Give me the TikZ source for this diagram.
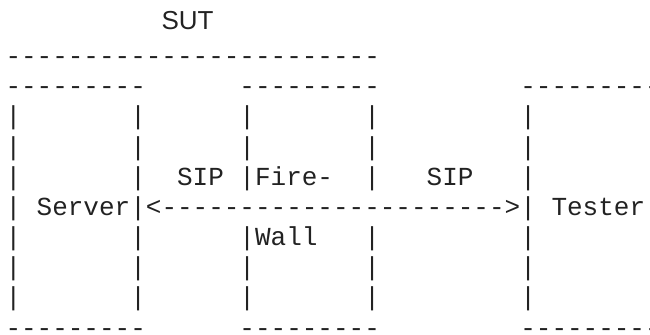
\documentclass[tikz,border=0pt]{standalone}
\usepackage{fontspec}
\setmonofont{Liberation Mono}
\setsansfont{Liberation Sans}
\usepackage{tikz}
\definecolor{ink}{HTML}{222222}

\begin{document}
\begin{tikzpicture}[x=7.8pt,y=-15.09pt,
  ascii/.style={anchor=base west,inner sep=0pt,outer sep=0pt,text=ink,
                font=\ttfamily\fontsize{13}{15.1}\selectfont}]
\useasboundingbox (-2.75pt,17.15pt) rectangle (322.25pt,-149.85pt);

\node at (10,0) [ascii,yshift=2.5pt,font=\sffamily\fontsize{13}{15.1}\selectfont] (sut) {SUT};
\node at (0,1) [ascii] (sut-line) {------------------------};

\foreach \c/\nm in {0/server,15/firewall,33/tester} {
  \node at (\c,2) [ascii] (\nm-top) {---------};
  \node at (\c,10) [ascii] (\nm-bottom) {---------};
}

\foreach \r in {3,4,5,7,8,9}
  \foreach \c in {0,8,15,23,33}
    \node at (\c,\r) [ascii] (bar-\c-\r) {|};
\foreach \c in {0,8,33}
  \node at (\c,6) [ascii] (bar-\c-6) {|};

\node at (11,5) [ascii] (sip-left) {SIP};
\node at (16,5) [ascii] (fire) {Fire-};
\node at (27,5) [ascii] (sip-right) {SIP};

\node at (2,6) [ascii] (server) {Server};
\node at (9,6) [ascii] (sip-arrow) {<---------------------->};
\node at (35,6) [ascii] (tester) {Tester};

\node at (16,7) [ascii] (wall) {Wall};
\end{tikzpicture}
\end{document}
